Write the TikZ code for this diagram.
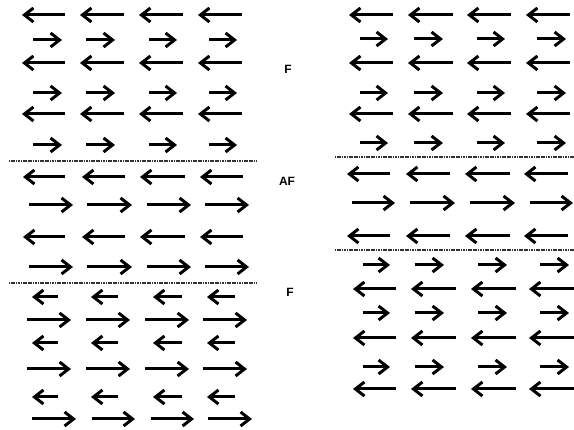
\documentclass[tikz,border=0pt]{standalone}
\usepackage{fontspec}
\setsansfont{Liberation Sans}
\usetikzlibrary{arrows.meta}
\tikzset{
  spin/.style={line width=3pt, -{Straight Barb[length=9pt,width=14pt,line width=3pt]}},
  wall/.style={line width=2.4pt, dash pattern=on 1.2pt off 0.5pt, black!80},
  lbl/.style={font=\sffamily\bfseries\fontsize{12}{12}\selectfont, inner sep=0pt}
}
\begin{document}
\begin{tikzpicture}[x=1pt,y=-1pt]
\useasboundingbox (0,0) rectangle (574,430);
% ---------- left column ----------
% top ferro block
\foreach \y in {15,63,114}
  \foreach \a/\b in {22/65,80/124,139/183,198/242}
    \draw[spin] (\b,\y) -- (\a,\y);
\foreach \y in {40,93,145}
  \foreach \a/\b in {33/62,86/115,149/177,209/237}
    \draw[spin] (\a,\y) -- (\b,\y);
\draw[wall] (9,161) -- (256,161);
% AF block
\foreach \y in {177,237}
  \foreach \a/\b in {23/65,82/125,140/185,200/243}
    \draw[spin] (\b,\y) -- (\a,\y);
\foreach \y in {205,267}
  \foreach \a/\b in {29/73,87/132,147/191,205/249}
    \draw[spin] (\a,\y) -- (\b,\y);
\draw[wall] (9,283) -- (256,283);
% bottom ferro block
\foreach \y in {297,343,397}
  \foreach \a/\b in {32/58,91/118,153/182,207/235}
    \draw[spin] (\b,\y) -- (\a,\y);
\foreach \y in {320,369}
  \foreach \a/\b in {27/71,86/130,145/189,203/247}
    \draw[spin] (\a,\y) -- (\b,\y);
\foreach \a/\b in {32/76,92/135,151/194,208/252}
  \draw[spin] (\a,419) -- (\b,419);
% ---------- labels ----------
\node[lbl] (f1) at (288,69) {F};
\node[lbl] (af) at (287,181) {AF};
\node[lbl] (f2) at (290,292) {F};
% ---------- right column ----------
\foreach \y in {15,63,114}
  \foreach \a/\b in {349/393,408/453,467/511,526/570}
    \draw[spin] (\b,\y) -- (\a,\y);
\foreach \y in {39,93,143}
  \foreach \a/\b in {360/388,414/443,477/505,537/566}
    \draw[spin] (\a,\y) -- (\b,\y);
\draw[wall] (335,157) -- (574,157);
\foreach \y in {174,236}
  \foreach \a/\b in {347/390,406/450,465/510,524/568}
    \draw[spin] (\b,\y) -- (\a,\y);
\foreach \a/\b in {352/395,410/455,470/515,530/573}
  \draw[spin] (\a,203) -- (\b,203);
\draw[wall] (335,250) -- (574,250);
\foreach \y in {265,313,367}
  \foreach \a/\b in {363/390,415/444,478/507,540/569}
    \draw[spin] (\a,\y) -- (\b,\y);
\foreach \y in {289,338,389}
  \foreach \a/\b in {353/396,411/456,471/516,529/574}
    \draw[spin] (\b,\y) -- (\a,\y);
\end{tikzpicture}
\end{document}
